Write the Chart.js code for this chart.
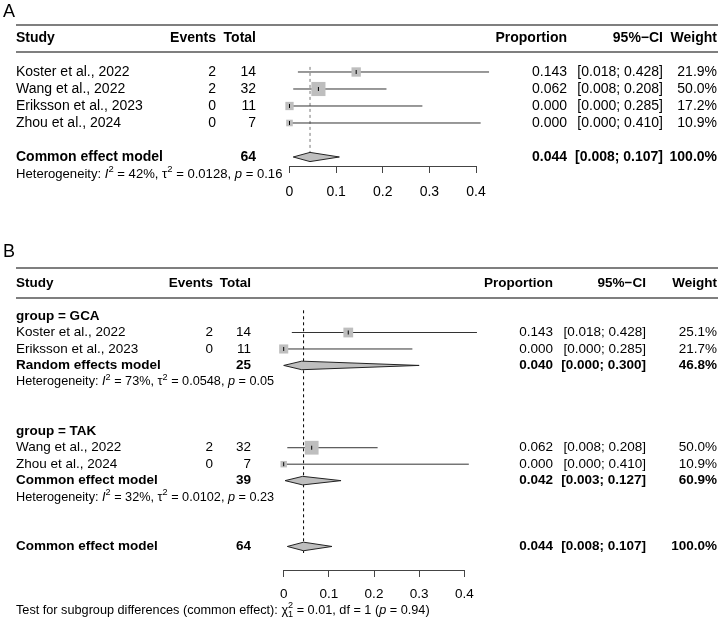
<!DOCTYPE html>
<html>
<head>
<meta charset="utf-8">
<script src="https://cdn.jsdelivr.net/npm/chart.js@4.4.1/dist/chart.umd.min.js"></script>
<style>
  html, body { margin: 0; padding: 0; background: #fff; }
  #wrap { position: relative; width: 720px; height: 620px; }
  canvas { position: absolute; left: 0; }
  #panelA { top: 0; }
  #panelB { top: 215px; }
</style>
</head>
<body>
<div id="wrap">
  <canvas id="panelA" width="720" height="215"></canvas>
  <canvas id="panelB" width="720" height="405"></canvas>
</div>
<script>
const FONT = '"Liberation Sans", Arial, Helvetica, sans-serif';
Chart.defaults.font.family = FONT;
Chart.defaults.color = '#000';

// ---- data ----
const studyNames = ['Koster et al., 2022', 'Wang et al., 2022', 'Eriksson et al., 2023', 'Zhou et al., 2024'];
const studyGroups = ['GCA', 'TAK', 'GCA', 'TAK'];
const studyEvents = [2, 2, 0, 0];
const studyTotals = [14, 32, 11, 7];
const studyProps = [0.143, 0.062, 0.000, 0.000];
const studyLower = [0.018, 0.008, 0.000, 0.000];
const studyUpper = [0.428, 0.208, 0.285, 0.410];
const weightsAll = [21.9, 50.0, 17.2, 10.9];   // panel A
const weightsSub = [25.1, 50.0, 21.7, 10.9];   // panel B

const groupNames = ['GCA', 'TAK'];
const groupModels = ['Random effects model', 'Common effect model'];
const groupTotals = [25, 39];
const groupProps = [0.040, 0.042];
const groupLower = [0.000, 0.003];
const groupUpper = [0.300, 0.127];
const groupWeights = [46.8, 60.9];
const groupI2 = [73, 32];
const groupTau2 = ['0.0548', '0.0102'];
const groupP = ['0.05', '0.23'];

const pooledModel = 'Common effect model';
const pooledTotal = 64;
const pooledProp = 0.044;
const pooledLower = 0.008;
const pooledUpper = 0.107;
const pooledI2 = 42;
const pooledTau2 = '0.0128';
const pooledP = '0.16';

const testQ = '0.01';
const testDf = 1;
const testP = '0.94';

const xTicks = [0, 0.1, 0.2, 0.3, 0.4];

// ---- text helpers ----
function hetParts(i2, tau2, p) {
  return [
    {t: 'Heterogeneity: '}, {t: 'I', it: true}, {sup: '2'},
    {t: ' = ' + i2 + '%, \u03c4'}, {sup: '2'},
    {t: ' = ' + tau2 + ', '}, {t: 'p', it: true}, {t: ' = ' + p}
  ];
}

function drawParts(ctx, parts, x, y, size) {
  parts.forEach(p => {
    if (p.sup !== undefined || p.sub !== undefined) {
      ctx.font = (size * 0.72) + 'px ' + FONT;
      let w = 0;
      if (p.sup !== undefined) { ctx.fillText(p.sup, x, y - size * 0.38); w = ctx.measureText(p.sup).width; }
      if (p.sub !== undefined) { ctx.fillText(p.sub, x, y + size * 0.3); w = Math.max(w, ctx.measureText(p.sub).width); }
      x += w;
      return;
    }
    ctx.font = (p.it ? 'italic ' : '') + size + 'px ' + FONT;
    ctx.fillText(p.t, x, y);
    x += ctx.measureText(p.t).width;
  });
}

// ---- rows ----
const rowsA = [];
studyNames.forEach((n, i) => rowsA.push({
  kind: 'study', row: i, name: n, events: studyEvents[i], total: studyTotals[i],
  prop: studyProps[i], lo: studyLower[i], hi: studyUpper[i], weight: weightsAll[i]
}));
rowsA.push({kind: 'summary', row: studyNames.length + 1, name: pooledModel, total: pooledTotal,
  prop: pooledProp, lo: pooledLower, hi: pooledUpper, weight: 100});
rowsA.push({kind: 'het', row: studyNames.length + 2, parts: hetParts(pooledI2, pooledTau2, pooledP)});

const rowsB = [];
let r = 0;
groupNames.forEach((g, gi) => {
  rowsB.push({kind: 'group', row: r++, name: 'group = ' + g});
  studyNames.forEach((n, i) => {
    if (studyGroups[i] !== g) return;
    rowsB.push({kind: 'study', row: r++, name: n, events: studyEvents[i], total: studyTotals[i],
      prop: studyProps[i], lo: studyLower[i], hi: studyUpper[i], weight: weightsSub[i]});
  });
  rowsB.push({kind: 'summary', row: r++, name: groupModels[gi], total: groupTotals[gi],
    prop: groupProps[gi], lo: groupLower[gi], hi: groupUpper[gi], weight: groupWeights[gi]});
  rowsB.push({kind: 'het', row: r++, parts: hetParts(groupI2[gi], groupTau2[gi], groupP[gi])});
  r += 2;
});
rowsB.push({kind: 'summary', row: r, name: pooledModel, total: pooledTotal,
  prop: pooledProp, lo: pooledLower, hi: pooledUpper, weight: 100});
rowsB.push({kind: 'het', row: r + 3.9, parts: [
  {t: 'Test for subgroup differences (common effect): \u03c7'}, {sup: '2', sub: String(testDf)},
  {t: ' = ' + testQ + ', df = ' + testDf + ' ('}, {t: 'p', it: true}, {t: ' = ' + testP + ')'}
]});

// ---- layout ----
const layoutA = {
  letter: 'A', letterRow: -3.55, ruleRows: [-2.76, -1.18], headerRow: -1.97,
  size: 14, hetSize: 13.1,
  cols: {name: 16, events: 216, total: 256, prop: 567, ci: 663, weight: 717},
  yMin: -1, yMax: 5.53, padTop: 55, padLeft: 289.5, padRight: 244, axisHeight: 49, tickPad: 11,
  refFrom: -0.3, refTo: 5.35, refColor: '#777', diamondHalf: 0.27, box: 2.0
};
const layoutB = {
  letter: 'B', letterRow: -3.9, ruleRows: [-2.92, -1.1], headerRow: -2,
  size: 13.5, hetSize: 12.7,
  cols: {name: 16, events: 213, total: 251, prop: 553, ci: 646, weight: 717},
  yMin: -1, yMax: 15.43, padTop: 84.6, padLeft: 283.7, padRight: 255.7, axisHeight: 50, tickPad: 9,
  refFrom: -0.35, refTo: 14.4, refColor: '#000', diamondHalf: 0.26, box: 1.95
};

// draws the table columns, header and rules
function tablePlugin(rows, L) {
  return {
    id: 'forestTable' + L.letter,
    afterDraw(chart) {
      const ctx = chart.ctx;
      const y = chart.scales.y;
      const c = L.cols;
      const put = (txt, x, py, align) => { ctx.textAlign = align; ctx.fillText(txt, x, py); };
      ctx.save();
      ctx.fillStyle = '#000';
      ctx.textBaseline = 'middle';

      ctx.font = '18px ' + FONT;
      put(L.letter, 3, y.getPixelForValue(L.letterRow), 'left');

      ctx.strokeStyle = '#555';
      ctx.lineWidth = 1.5;
      L.ruleRows.forEach(rr => {
        const py = y.getPixelForValue(rr);
        ctx.beginPath(); ctx.moveTo(16, py); ctx.lineTo(718, py); ctx.stroke();
      });

      const hy = y.getPixelForValue(L.headerRow);
      ctx.font = 'bold ' + L.size + 'px ' + FONT;
      put('Study', c.name, hy, 'left');
      put('Events', c.events, hy, 'right');
      put('Total', c.total, hy, 'right');
      put('Proportion', c.prop, hy, 'right');
      put('95%\u2212CI', c.ci, hy, 'right');
      put('Weight', c.weight, hy, 'right');

      rows.forEach(row => {
        const py = y.getPixelForValue(row.row);
        if (row.kind === 'het') {
          ctx.textAlign = 'left';
          drawParts(ctx, row.parts, c.name, py, L.hetSize);
          return;
        }
        ctx.font = (row.kind === 'study' ? '' : 'bold ') + L.size + 'px ' + FONT;
        put(row.name, c.name, py, 'left');
        if (row.kind === 'group') return;
        if (row.events !== undefined) put(String(row.events), c.events, py, 'right');
        put(String(row.total), c.total, py, 'right');
        put(row.prop.toFixed(3), c.prop, py, 'right');
        put('[' + row.lo.toFixed(3) + '; ' + row.hi.toFixed(3) + ']', c.ci, py, 'right');
        put(row.weight.toFixed(1) + '%', c.weight, py, 'right');
      });
      ctx.restore();
    }
  };
}

function forestChart(id, rows, L) {
  const studies = rows.filter(x => x.kind === 'study');
  const summaries = rows.filter(x => x.kind === 'summary');
  const datasets = [];

  // dashed line at pooled estimate
  datasets.push({
    data: [{x: pooledProp, y: L.refFrom}, {x: pooledProp, y: L.refTo}],
    showLine: true, borderColor: L.refColor, borderWidth: 1, borderDash: [3, 3],
    pointRadius: 0, order: 5
  });
  // confidence intervals
  studies.forEach(s => datasets.push({
    data: [{x: s.lo, y: s.row}, {x: s.hi, y: s.row}],
    showLine: true, borderColor: '#333', borderWidth: 1, pointRadius: 0, clip: false, order: 4
  }));
  // summary diamonds
  summaries.forEach(s => datasets.push({
    data: [
      {x: s.lo, y: s.row}, {x: s.prop, y: s.row - L.diamondHalf},
      {x: s.hi, y: s.row}, {x: s.prop, y: s.row + L.diamondHalf}, {x: s.lo, y: s.row}
    ],
    showLine: true, fill: 'shape', backgroundColor: '#bebebe', borderColor: '#222',
    borderWidth: 1, pointRadius: 0, clip: false, order: 3
  }));
  // weighted squares
  datasets.push({
    data: studies.map(s => ({x: s.prop, y: s.row})),
    pointStyle: 'rect', pointRadius: studies.map(s => L.box * Math.sqrt(s.weight) / Math.SQRT2),
    backgroundColor: '#bebebe', borderWidth: 0, clip: false, order: 2
  });
  // estimate marks
  datasets.push({
    data: studies.map(s => ({x: s.prop, y: s.row})),
    pointStyle: 'line', rotation: 90, pointRadius: 2, borderColor: '#000', borderWidth: 1,
    clip: false, order: 1
  });

  return new Chart(document.getElementById(id), {
    type: 'scatter',
    data: {datasets},
    options: {
      responsive: false,
      animation: false,
      events: [],
      layout: {padding: {top: L.padTop, left: L.padLeft, right: L.padRight, bottom: 0}},
      plugins: {legend: {display: false}, tooltip: {enabled: false}},
      scales: {
        x: {
          type: 'linear',
          min: xTicks[0],
          max: xTicks[xTicks.length - 1],
          afterBuildTicks: axis => { axis.ticks = xTicks.map(v => ({value: v})); },
          afterFit: scale => { scale.height = L.axisHeight; },
          ticks: {
            font: {size: L.size, family: FONT}, color: '#000', padding: L.tickPad,
            autoSkip: false, maxRotation: 0, callback: v => String(v)
          },
          grid: {drawOnChartArea: false, drawTicks: true, tickLength: 7, color: '#444', lineWidth: 1},
          border: {display: true, color: '#444', width: 1}
        },
        y: {type: 'linear', reverse: true, min: L.yMin, max: L.yMax, display: false}
      }
    },
    plugins: [tablePlugin(rows, L)]
  });
}

forestChart('panelA', rowsA, layoutA);
forestChart('panelB', rowsB, layoutB);
</script>
</body>
</html>
